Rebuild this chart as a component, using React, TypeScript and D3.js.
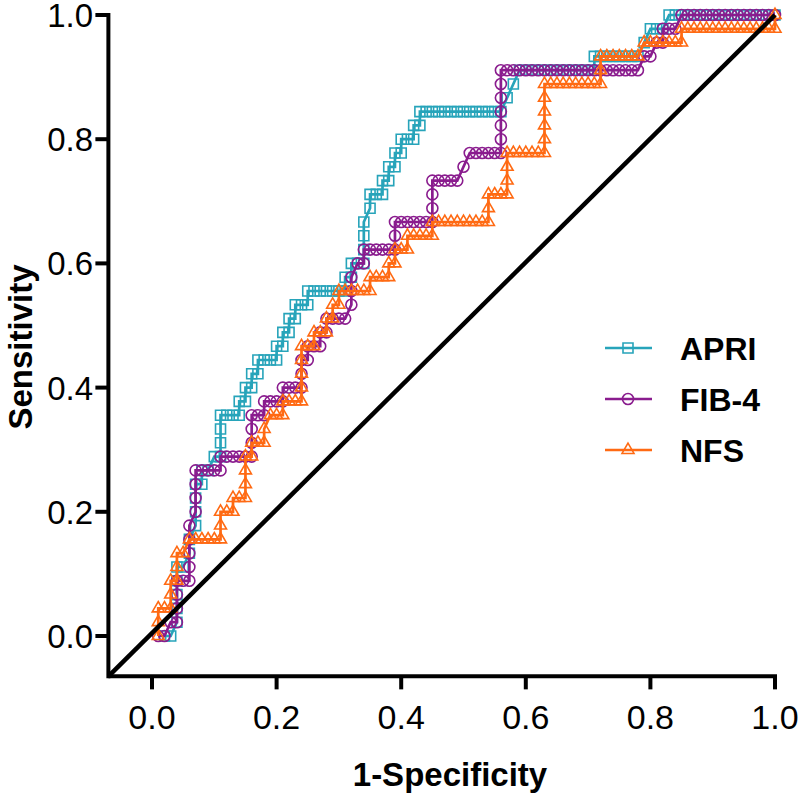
import React from 'react';
import * as d3 from 'd3';

// ROC data: [false-positive count, true-positive count]
const N_NEG = 100;
const N_POS = 45;

const APRI_POINTS: [number, number][] = [
  [2,0],[3,0],[4,1],[4,2],[4,3],[4,4],[4,5],[5,5],[6,6],[6,7],[7,8],[7,9],[7,10],[7,11],[8,11],[8,12],[9,12],[10,13],[11,13],[11,14],[11,15],[11,16],[12,16],[13,16],[14,16],[14,17],[15,17],[15,18],[16,18],[16,19],[17,19],[17,20],[18,20],[19,20],[20,20],[20,21],[21,21],[21,22],[22,22],[22,23],[23,23],[23,24],[24,24],[25,24],[25,25],[26,25],[27,25],[28,25],[29,25],[30,25],[31,25],[31,26],[32,26],[32,27],[33,27],[34,27],[34,28],[34,29],[34,30],[35,31],[35,32],[36,32],[37,32],[37,33],[38,33],[38,34],[39,34],[39,35],[40,35],[40,36],[41,36],[42,36],[42,37],[43,37],[43,38],[44,38],[45,38],[46,38],[47,38],[48,38],[49,38],[50,38],[51,38],[52,38],[53,38],[54,38],[55,38],[56,38],[57,39],[58,40],[59,41],[60,41],[61,41],[62,41],[63,41],[64,41],[65,41],[66,41],[67,41],[68,41],[69,41],[70,41],[71,41],[71,42],[72,42],[73,42],[74,42],[75,42],[76,42],[77,42],[78,42],[79,43],[80,44],[81,44],[82,44],[83,45],[84,45],[85,45],[86,45],[87,45],[88,45],[89,45],[90,45],[91,45],[92,45],[93,45],[94,45],[95,45],[96,45],[97,45],[98,45],[99,45],[100,45]
];

const FIB4_POINTS: [number, number][] = [
  [1,0],[2,0],[3,1],[4,1],[4,2],[4,3],[4,4],[5,4],[6,4],[6,5],[6,6],[6,7],[6,8],[7,9],[7,10],[7,11],[7,12],[8,12],[9,12],[10,12],[11,12],[11,13],[12,13],[13,13],[14,13],[15,13],[16,13],[16,14],[16,15],[16,16],[17,16],[18,16],[18,17],[19,17],[20,17],[21,17],[21,18],[22,18],[23,18],[24,18],[24,19],[24,20],[25,20],[25,21],[26,21],[27,21],[27,22],[28,22],[28,23],[29,23],[30,23],[31,23],[32,24],[32,25],[32,26],[33,27],[34,27],[34,28],[35,28],[36,28],[37,28],[38,28],[39,28],[39,29],[39,30],[40,30],[41,30],[42,30],[43,30],[44,30],[45,30],[45,31],[45,32],[45,33],[46,33],[47,33],[48,33],[49,33],[50,34],[51,35],[52,35],[53,35],[54,35],[55,35],[56,35],[56,36],[56,37],[56,38],[56,39],[56,40],[56,41],[57,41],[58,41],[59,41],[60,41],[61,41],[62,41],[63,41],[64,41],[65,41],[66,41],[67,41],[68,41],[69,41],[70,41],[71,41],[72,41],[73,41],[74,41],[75,41],[76,41],[77,41],[78,41],[79,42],[80,42],[81,43],[82,43],[82,44],[83,44],[84,44],[85,45],[86,45],[87,45],[88,45],[89,45],[90,45],[91,45],[92,45],[93,45],[94,45],[95,45],[96,45],[97,45],[98,45],[99,45],[100,45]
];

const NFS_POINTS: [number, number][] = [
  [1,0],[1,1],[1,2],[2,2],[3,2],[3,3],[3,4],[4,4],[4,5],[4,6],[5,6],[6,7],[7,7],[8,7],[9,7],[10,7],[11,7],[11,8],[11,9],[12,9],[13,9],[13,10],[14,10],[15,10],[15,11],[15,12],[15,13],[16,13],[16,14],[17,14],[18,14],[18,15],[19,16],[20,16],[21,16],[21,17],[22,17],[23,17],[24,17],[24,18],[24,19],[24,20],[24,21],[25,21],[26,21],[26,22],[27,22],[28,22],[28,23],[29,23],[29,24],[30,24],[30,25],[31,25],[32,25],[33,25],[34,25],[35,25],[35,26],[36,26],[37,26],[38,26],[38,27],[39,27],[39,28],[40,28],[41,28],[41,29],[42,29],[43,29],[44,29],[45,29],[45,30],[46,30],[47,30],[48,30],[49,30],[50,30],[51,30],[52,30],[53,30],[54,30],[54,31],[54,32],[55,32],[56,32],[57,32],[57,33],[57,34],[57,35],[58,35],[59,35],[60,35],[61,35],[62,35],[63,35],[63,36],[63,37],[63,38],[63,39],[63,40],[64,40],[65,40],[66,40],[67,40],[68,40],[69,40],[70,40],[71,40],[72,40],[72,41],[72,42],[73,42],[74,42],[75,42],[76,42],[77,42],[78,42],[79,43],[80,43],[81,43],[82,43],[83,43],[84,43],[85,43],[85,44],[86,44],[87,44],[88,44],[89,44],[90,44],[91,44],[92,44],[93,44],[94,44],[95,44],[96,44],[97,44],[98,44],[99,44],[100,44],[100,45]
];

const SERIES_NAMES = ['APRI', 'FIB-4', 'NFS'];
const SERIES_COLORS = ['#27A4BA', '#8A1C8E', '#FF6A13'];
const X_TICKS = [0, 0.2, 0.4, 0.6, 0.8, 1.0];
const Y_TICKS = [0, 0.2, 0.4, 0.6, 0.8, 1.0];
const X_TITLE = '1-Specificity';
const Y_TITLE = 'Sensitivity';
const X_MIN = -0.07;
const Y_MIN = -0.065;

const FONT = '"Liberation Sans", Arial, Helvetica, sans-serif';

export default function App() {
  const x = d3.scaleLinear().domain([0, 1]).range([152, 775]);
  const y = d3.scaleLinear().domain([0, 1]).range([636, 15]);
  const fmt = d3.format('.1f');

  const series = [APRI_POINTS, FIB4_POINTS, NFS_POINTS].map((pts, i) => ({
    name: SERIES_NAMES[i],
    color: SERIES_COLORS[i],
    symbol: [d3.symbolSquare, d3.symbolCircle, d3.symbolTriangle][i],
    size: [100, 95, 62][i],
    data: pts.map(([fp, tp]) => [fp / N_NEG, tp / N_POS] as [number, number]),
  }));

  const line = d3.line<[number, number]>().x(d => x(d[0])).y(d => y(d[1]));

  const legendY = [348, 399, 450];

  return (
    <svg width={800} height={799} style={{ position: 'absolute', left: 0, top: 0, background: '#fff' }}
      fontFamily={FONT}>
      <rect x={0} y={0} width={800} height={799} fill="#fff" />
      {series.map((s, i) => {
        const sym = d3.symbol().type(s.symbol).size(s.size)() as string;
        return (
          <g key={s.name}>
            <path d={line(s.data) as string} fill="none" stroke={s.color} strokeWidth={2.7} />
            {s.data.map((d, j) => (
              <path key={j} d={sym} transform={`translate(${x(d[0])},${y(d[1])})`}
                fill="none" stroke={s.color} strokeWidth={1.6} />
            ))}
          </g>
        );
      })}
      {/* reference diagonal */}
      <line x1={x(X_MIN)} y1={y(Y_MIN)} x2={x(1)} y2={y(1)} stroke="#000" strokeWidth={4.5} />
      {/* axes */}
      <line x1={x(X_MIN)} y1={y(Y_MIN)} x2={x(1) + 2} y2={y(Y_MIN)} stroke="#000" strokeWidth={4} />
      <line x1={x(X_MIN)} y1={y(Y_MIN) + 2} x2={x(X_MIN)} y2={y(1) - 2} stroke="#000" strokeWidth={4} />
      {X_TICKS.map(t => (
        <g key={'x' + t}>
          <line x1={x(t)} x2={x(t)} y1={y(Y_MIN)} y2={y(Y_MIN) + 13} stroke="#000" strokeWidth={4} />
          <text x={x(t)} y={729} textAnchor="middle" fontSize={34}>{fmt(t)}</text>
        </g>
      ))}
      {Y_TICKS.map(t => (
        <g key={'y' + t}>
          <line x1={x(X_MIN) - 13} x2={x(X_MIN)} y1={y(t)} y2={y(t)} stroke="#000" strokeWidth={4} />
          <text x={93} y={y(t) + 12} textAnchor="end" fontSize={33}>{fmt(t)}</text>
        </g>
      ))}
      <text x={450} y={786} textAnchor="middle" fontSize={33} fontWeight="bold">{X_TITLE}</text>
      <text transform={`translate(32,347) rotate(-90)`} textAnchor="middle" fontSize={33} fontWeight="bold">{Y_TITLE}</text>
      {/* legend */}
      {series.map((s, i) => {
        const sym = d3.symbol().type(s.symbol).size(s.size)() as string;
        return (
          <g key={'leg' + s.name}>
            <line x1={605} x2={652} y1={legendY[i]} y2={legendY[i]} stroke={s.color} strokeWidth={2.7} />
            <path d={sym} transform={`translate(628,${legendY[i]})`} fill="none" stroke={s.color} strokeWidth={1.6} />
            <text x={680} y={legendY[i] + 12} fontSize={32} fontWeight="bold">{s.name}</text>
          </g>
        );
      })}
    </svg>
  );
}
